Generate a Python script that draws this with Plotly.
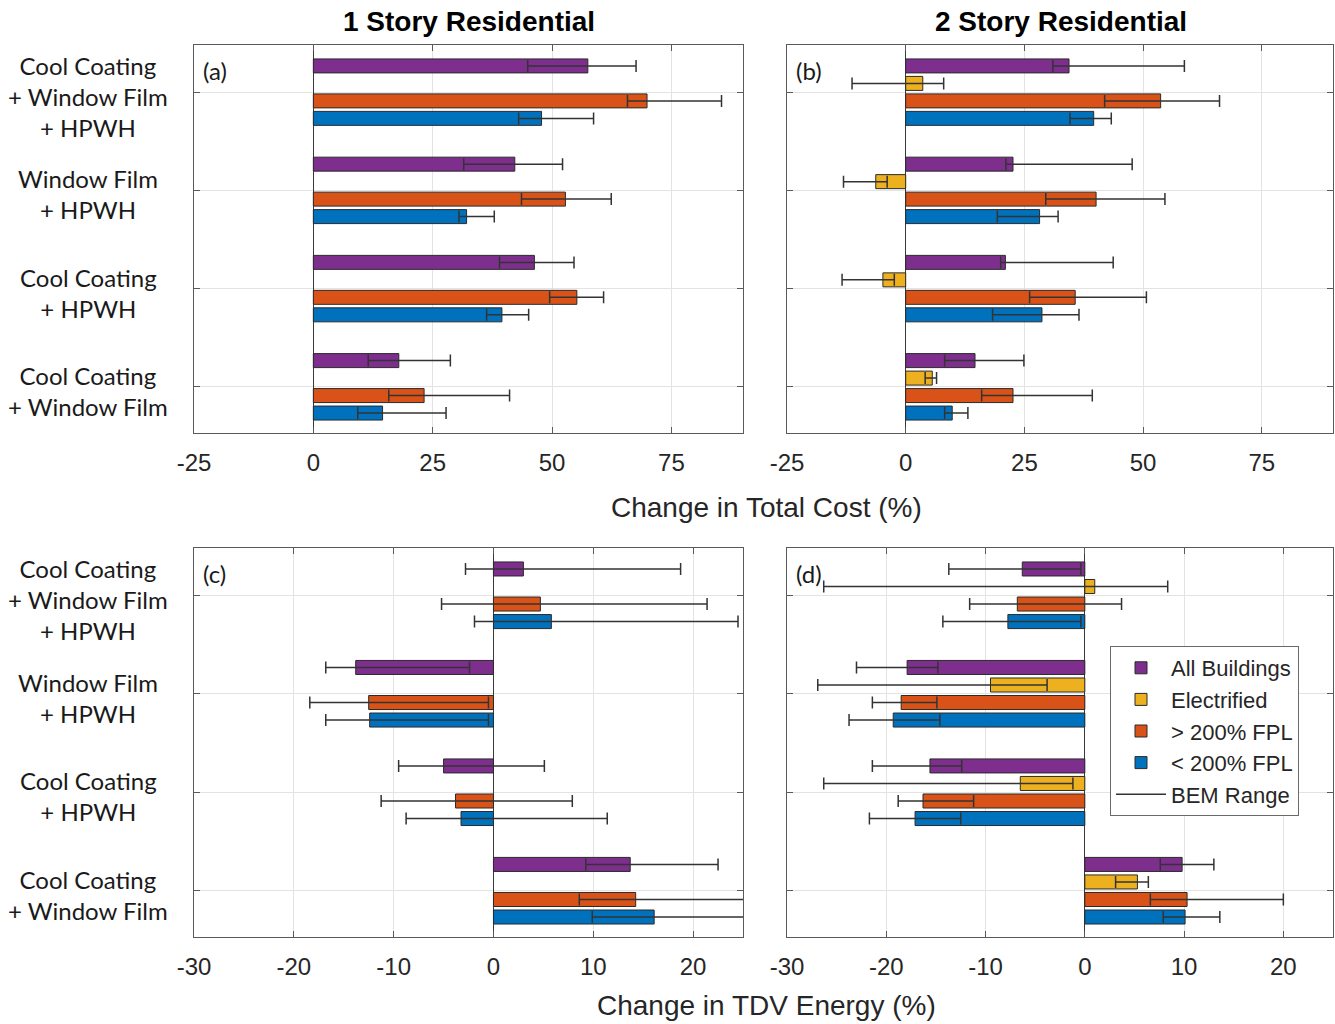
import plotly.graph_objects as go
from plotly.subplots import make_subplots

# Retrofit packages (top to bottom) and building groups
categories = [
    "Cool Coating<br>+ Window Film<br>+ HPWH",
    "Window Film<br>+ HPWH",
    "Cool Coating<br>+ HPWH",
    "Cool Coating<br>+ Window Film",
]
series_names = ["All Buildings", "Electrified", "> 200% FPL", "< 200% FPL"]
series_colors = ["#7E2F8E", "#EDB120", "#D95319", "#0072BD"]

# (a) 1 story, change in total cost (%): bar value, BEM range low / high
a_value = [[57.5, 42.2, 46.3, 17.9], [None] * 4, [69.9, 52.8, 55.2, 23.2], [47.8, 32.1, 39.5, 14.5]]
a_low = [[44.9, 31.5, 39.0, 11.5], [None] * 4, [65.8, 43.6, 49.5, 15.8], [43.0, 30.5, 36.3, 9.3]]
a_high = [[67.6, 52.2, 54.6, 28.7], [None] * 4, [85.5, 62.4, 60.8, 41.1], [58.7, 37.9, 45.1, 27.8]]

# (b) 2 story, change in total cost (%)
b_value = [[34.4, 22.6, 21.0, 14.6], [3.6, -6.3, -4.8, 5.6], [53.7, 40.1, 35.7, 22.6], [39.6, 28.2, 28.7, 9.8]]
b_low = [[31.0, 21.1, 20.0, 8.2], [-11.3, -13.1, -13.4, 4.1], [41.9, 29.5, 26.1, 16.0], [34.6, 19.3, 18.3, 8.2]]
b_high = [[58.7, 47.7, 43.7, 24.9], [8.0, -3.9, -2.4, 6.5], [66.1, 54.6, 50.7, 39.3], [43.3, 32.1, 36.5, 13.1]]

# (c) 1 story, change in TDV energy (%)
c_value = [[3.0, -13.8, -5.0, 13.7], [None] * 4, [4.7, -12.5, -3.8, 14.25], [5.8, -12.4, -3.25, 16.1]]
c_low = [[-2.8, -16.8, -9.5, 9.25], [None] * 4, [-5.2, -18.4, -11.25, 8.6], [-1.9, -16.8, -8.75, 9.9]]
c_high = [[18.75, -2.4, 5.1, 22.5], [None] * 4, [21.4, -0.5, 7.9, 27.0], [24.5, -0.5, 11.4, 29.0]]

# (d) 2 story, change in TDV energy (%)
d_value = [[-6.3, -17.9, -15.6, 9.8], [1.0, -9.5, -6.5, 5.3], [-6.8, -18.5, -16.3, 10.3], [-7.75, -19.3, -17.1, 10.1]]
d_low = [[-13.7, -23.0, -21.4, 7.6], [-26.3, -26.9, -26.3, 3.1], [-11.6, -21.4, -18.8, 6.6], [-14.3, -23.75, -21.7, 7.9]]
d_high = [[-0.4, -14.8, -12.4, 13.0], [8.35, -3.8, -1.2, 6.4], [3.7, -14.9, -11.2, 20.0], [-0.4, -14.6, -12.5, 13.6]]

cost_ticks = [-25, 0, 25, 50, 75]
energy_ticks = [-30, -20, -10, 0, 10, 20]

W, H = 1335, 1024
AXIS_GRAY = "#5a5a5a"
TEXT_GRAY = "#262626"
LABEL_FONT = "Lato, Open Sans, sans-serif"
NUM_FONT = "Liberation Sans, Arial, sans-serif"

fig = make_subplots(rows=2, cols=2)


def add_panel(row, col, values, lows, highs, show_legend):
    for k, name in enumerate(series_names):
        v, lo, hi = values[k], lows[k], highs[k]
        plus = [None if x is None else h - x for x, h in zip(v, hi)]
        minus = [None if x is None else x - l for x, l in zip(v, lo)]
        fig.add_trace(
            go.Bar(
                x=v, y=categories, orientation="h", name=name,
                marker=dict(color=series_colors[k], line=dict(color="#2a2a2a", width=1)),
                error_x=dict(type="data", symmetric=False, array=plus, arrayminus=minus,
                             color="#333333", thickness=1.5, width=6),
                showlegend=show_legend, legendgroup=name,
            ),
            row=row, col=col,
        )


add_panel(1, 1, a_value, a_low, a_high, False)
add_panel(1, 2, b_value, b_low, b_high, False)
add_panel(2, 1, c_value, c_low, c_high, False)
add_panel(2, 2, d_value, d_low, d_high, True)

# legend entry for the BEM range whiskers
fig.add_trace(
    go.Scatter(x=[None], y=[None], mode="lines", name="BEM Range",
               line=dict(color="#333333", width=1.5), showlegend=True),
    row=2, col=2,
)

# subplot placement in pixels: (left, right, top, bottom)
boxes = {
    (1, 1): (194, 743, 45, 433),
    (1, 2): (787, 1333, 45, 433),
    (2, 1): (194, 743, 548, 937),
    (2, 2): (787, 1333, 548, 937),
}
ranges = {1: ([-25, 90], cost_ticks), 2: ([-30, 25], energy_ticks)}

for (r, c), (x0, x1, y0, y1) in boxes.items():
    idx = (r - 1) * 2 + c
    xname = "xaxis" if idx == 1 else f"xaxis{idx}"
    yname = "yaxis" if idx == 1 else f"yaxis{idx}"
    xr, xt = ranges[r]
    fig.layout[xname].update(
        domain=[x0 / W, x1 / W], range=xr, tickvals=xt, ticktext=[str(t) for t in xt],
        showgrid=True, gridcolor="#e3e3e3", gridwidth=1,
        zeroline=True, zerolinecolor="#3a3a3a", zerolinewidth=1,
        showline=True, linecolor=AXIS_GRAY, linewidth=1, mirror="ticks",
        ticks="inside", ticklen=6, tickcolor=AXIS_GRAY, ticklabelstandoff=8,
        tickfont=dict(family=NUM_FONT, size=24, color=TEXT_GRAY),
        automargin=False, fixedrange=True,
    )
    fig.layout[yname].update(
        domain=[1 - y1 / H, 1 - y0 / H], type="category",
        categoryorder="array", categoryarray=categories, range=[3.47, -0.48],
        showticklabels=False, showgrid=True, gridcolor="#e3e3e3",
        showline=True, linecolor=AXIS_GRAY, linewidth=1, mirror="ticks",
        ticks="inside", ticklen=6, tickcolor=AXIS_GRAY,
        automargin=False, fixedrange=True,
    )

annotations = []

# column titles
for text, xc in [("1 Story Residential", 468.5), ("2 Story Residential", 1060.5)]:
    annotations.append(dict(
        text=f"<b>{text}</b>", x=xc / W, y=1 - 21 / H, xref="paper", yref="paper",
        xanchor="center", yanchor="middle", showarrow=False,
        font=dict(family=NUM_FONT, size=28, color="#000000"),
    ))

# shared x-axis titles
for text, yc in [("Change in Total Cost (%)", 507), ("Change in TDV Energy (%)", 1005)]:
    annotations.append(dict(
        text=text, x=766 / W, y=1 - yc / H, xref="paper", yref="paper",
        xanchor="center", yanchor="middle", showarrow=False,
        font=dict(family=NUM_FONT, size=28, color=TEXT_GRAY),
    ))

# panel letters
for letter, idx in [("(a)", 1), ("(b)", 2), ("(c)", 3), ("(d)", 4)]:
    sfx = "" if idx == 1 else str(idx)
    annotations.append(dict(
        text=letter, x=0.012, y=0.935, xref=f"x{sfx} domain", yref=f"y{sfx} domain",
        xanchor="left", yanchor="middle", showarrow=False,
        font=dict(family=LABEL_FONT, size=24, color="#1a1a1a"),
    ))

# package labels to the left of each row of panels
for sfx in ["", "3"]:
    for cat in categories:
        annotations.append(dict(
            text=cat, x=88 / W, y=cat, xref="paper", yref=f"y{sfx}",
            xanchor="center", yanchor="middle", align="center", showarrow=False,
            yshift=-4, font=dict(family=LABEL_FONT, size=24, color="#1a1a1a"),
        ))

fig.update_layout(
    width=W, height=H,
    margin=dict(l=0, r=0, t=0, b=0),
    paper_bgcolor="white", plot_bgcolor="white",
    barmode="group", bargap=0.288, bargroupgap=0.2,
    annotations=annotations,
    legend=dict(
        x=1110 / W, y=1 - 646 / H, xanchor="left", yanchor="top",
        bgcolor="white", bordercolor="#6a6a6a", borderwidth=1,
        font=dict(family=NUM_FONT, size=22, color=TEXT_GRAY),
        tracegroupgap=0, itemwidth=50,
    ),
    showlegend=True,
)

fig.write_html("out.html")
